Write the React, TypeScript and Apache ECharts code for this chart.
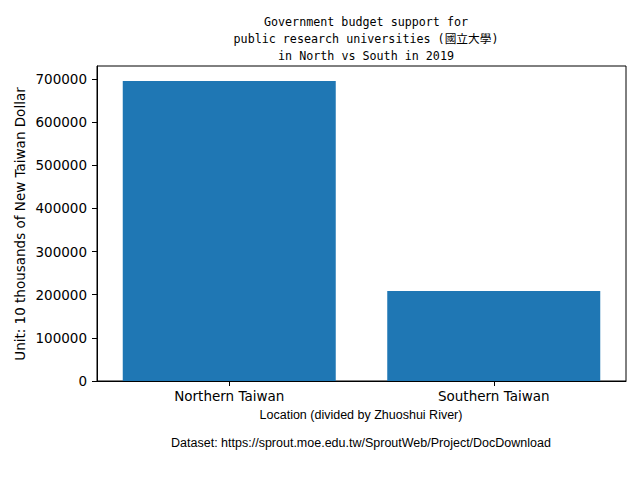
import React, { useEffect, useRef } from "react";
import * as echarts from "echarts";

const categories = ["Northern Taiwan", "Southern Taiwan"];
const budgetValues = [695000, 208500];
const yTicks = [0, 100000, 200000, 300000, 400000, 500000, 600000, 700000];
const titleLines = [
  "Government budget support for",
  "public research universities (國立大學)",
  "in North vs South in 2019",
];
const xLabel = "Location (divided by Zhuoshui River)";
const yLabel = "Unit: 10 thousands of New Taiwan Dollar";
const sourceNote = "Dataset: https://sprout.moe.edu.tw/SproutWeb/Project/DocDownload";

export default function App() {
  const ref = useRef<HTMLDivElement>(null);
  useEffect(() => {
    if (!ref.current) return;
    const chart = echarts.init(ref.current, null, { renderer: "svg" });
    const mono = "'DejaVu Sans Mono', 'Noto Sans CJK JP', monospace";
    const sans = "'DejaVu Sans', sans-serif";
    const arial = "'Liberation Sans', Arial, sans-serif";
    chart.setOption({
      animation: false,
      backgroundColor: "#ffffff",
      grid: {
        left: 97,
        right: 14,
        top: 66,
        bottom: 99,
        show: true,
        borderColor: "#000",
        borderWidth: 1,
        backgroundColor: "transparent",
      },
      title: {
        text: titleLines.join("\n"),
        left: 361,
        top: 8,
        textAlign: "center",
        textStyle: {
          fontFamily: mono,
          fontSize: 11.7,
          fontWeight: "normal",
          color: "#000",
          lineHeight: 17,
          align: "center",
        },
      },
      xAxis: {
        type: "category",
        data: categories,
        boundaryGap: true,
        axisLine: { show: true, lineStyle: { color: "#000", width: 1 } },
        axisTick: { show: true, alignWithLabel: true, length: 5, lineStyle: { color: "#000" } },
        axisLabel: { fontFamily: sans, fontSize: 13.5, color: "#000", margin: 8 },
        splitLine: { show: false },
      },
      yAxis: {
        type: "value",
        min: 0,
        max: 730000,
        axisLine: { show: true, lineStyle: { color: "#000", width: 1 } },
        axisTick: { show: true, length: 5, lineStyle: { color: "#000" }, customValues: yTicks },
        axisLabel: {
          fontFamily: sans,
          fontSize: 13.5,
          color: "#000",
          margin: 10,
          customValues: yTicks,
          formatter: (v: number) => String(v),
        },
        splitLine: { show: false },
      },
      series: [
        {
          type: "bar",
          data: budgetValues,
          barWidth: 213,
          itemStyle: { color: "#1f77b4" },
        },
      ],
      graphic: [
        {
          type: "text",
          x: 20,
          y: 224,
          rotation: Math.PI / 2,
          style: {
            text: yLabel,
            fontFamily: sans,
            fontSize: 13.5,
            fill: "#000",
            textAlign: "center",
            textVerticalAlign: "middle",
          },
        },
        {
          type: "text",
          x: 361,
          y: 415,
          style: {
            text: xLabel,
            fontFamily: arial,
            fontSize: 12.5,
            fill: "#000",
            textAlign: "center",
            textVerticalAlign: "middle",
          },
        },
        {
          type: "text",
          x: 361,
          y: 443,
          style: {
            text: sourceNote,
            fontFamily: arial,
            fontSize: 12.5,
            fill: "#000",
            textAlign: "center",
            textVerticalAlign: "middle",
          },
        },
      ],
    });
    return () => chart.dispose();
  }, []);
  return <div ref={ref} style={{ width: 640, height: 480, margin: -8 }} />;
}
